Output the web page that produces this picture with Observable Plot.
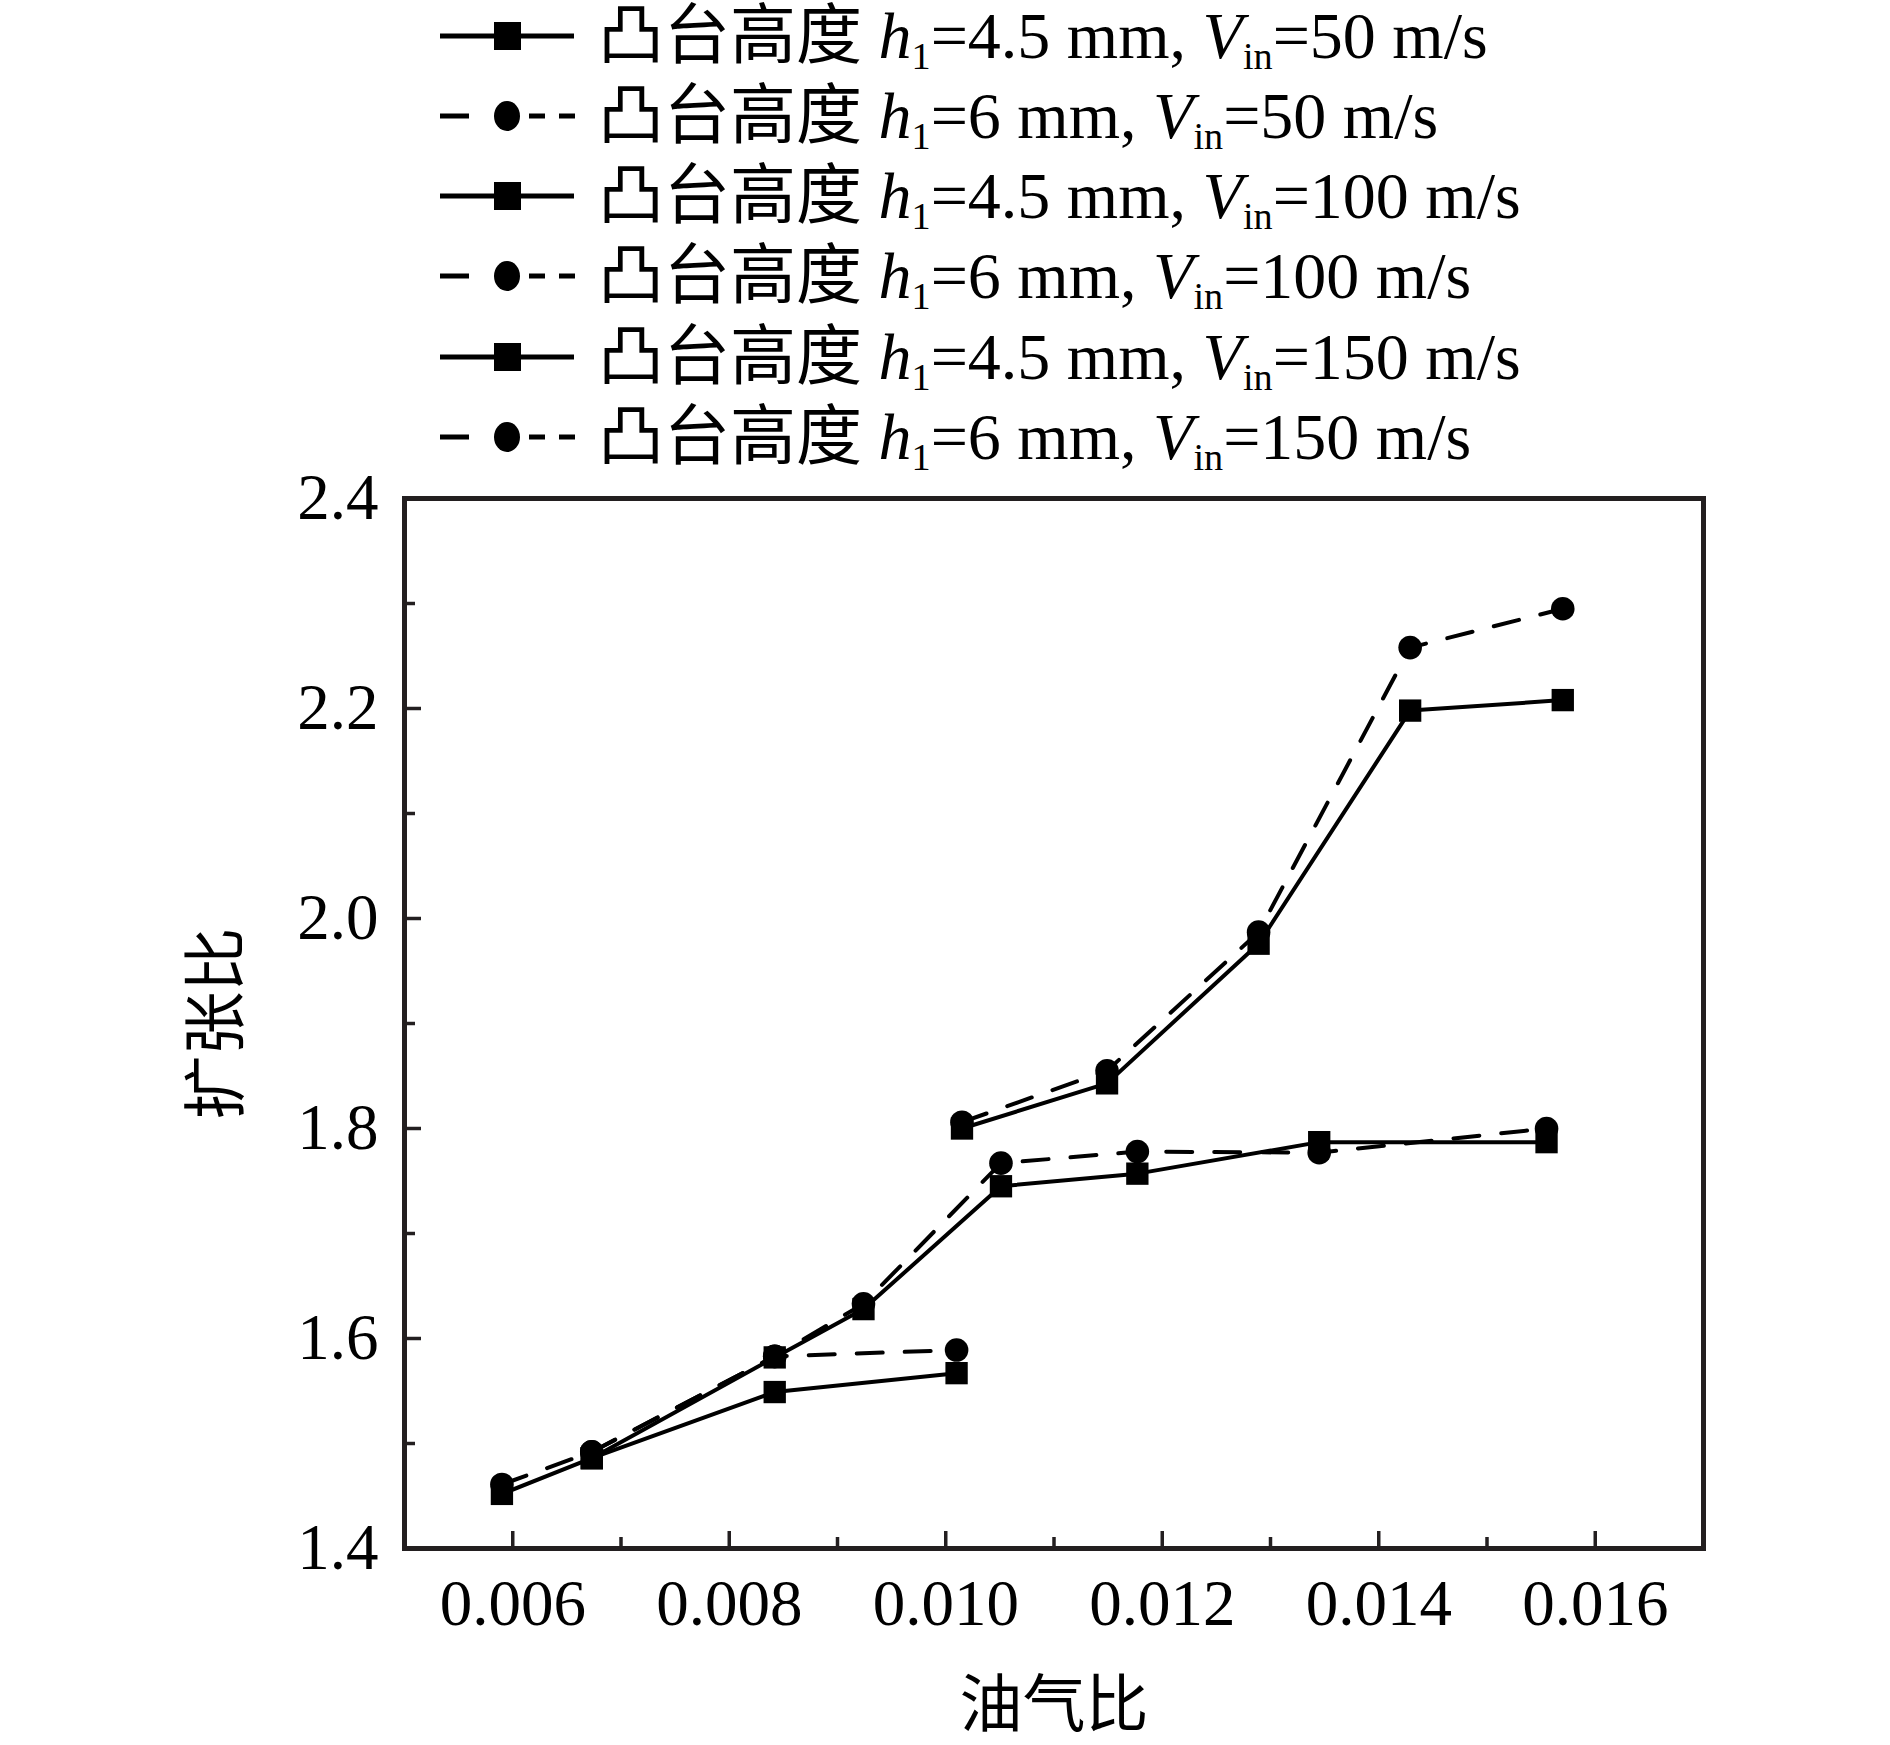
<!DOCTYPE html>
<html>
<head>
<meta charset="utf-8">
<script src="https://cdn.jsdelivr.net/npm/d3@7"></script>
<script src="https://cdn.jsdelivr.net/npm/@observablehq/plot@0.6"></script>
<style>
  html, body { margin: 0; padding: 0; background: #fff; }
  #wrap { width: 1890px; height: 1745px; position: relative; overflow: hidden; }
  #legend { position: relative; width: 1890px; height: 480px; }
  .row { position: absolute; left: 0; height: 80px; display: flex; align-items: center; }
  .row svg { position: absolute; left: 440px; top: 0; }
  .row .lab { position: absolute; left: 598px; top: 0; height: 80px; line-height: 80px; white-space: nowrap;
    font-family: "Liberation Serif", "Noto Sans CJK SC", serif; font-size: 66px; color: #000; }
  .lab i { font-style: italic; }
  .lab sub { font-size: 0.58em; vertical-align: -0.28em; line-height: 0; }
</style>
</head>
<body>
<div id="wrap">
  <div id="legend"></div>
  <div id="chart"></div>
</div>
<script>
// ---------- data ----------
const xLabel = "油气比";
const yLabel = "扩张比";
const xMajor = [0.006, 0.008, 0.010, 0.012, 0.014, 0.016];
const xMinor = [0.007, 0.009, 0.011, 0.013, 0.015];
const yMajor = [1.4, 1.6, 1.8, 2.0, 2.2, 2.4];
const yMinor = [1.5, 1.7, 1.9, 2.1, 2.3];

const xV50 = [0.0059, 0.00673, 0.00842, 0.0101];
const yV50h45 = [1.452, 1.486, 1.549, 1.567];
const yV50h6 = [1.461, 1.492, 1.583, 1.589];

const xV100 = [0.00673, 0.00842, 0.00924, 0.01051, 0.01177, 0.01345, 0.01555];
const yV100h45 = [1.486, 1.582, 1.628, 1.745, 1.757, 1.787, 1.787];
const yV100h6 = [1.492, 1.583, 1.633, 1.767, 1.778, 1.777, 1.800];

const xV150 = [0.01015, 0.01149, 0.01289, 0.01429, 0.0157];
const yV150h45 = [1.800, 1.843, 1.976, 2.198, 2.208];
const yV150h6 = [1.806, 1.855, 1.987, 2.258, 2.295];

const seriesNames = [
  {h: "4.5", v: "50"}, {h: "6", v: "50"},
  {h: "4.5", v: "100"}, {h: "6", v: "100"},
  {h: "4.5", v: "150"}, {h: "6", v: "150"}
];

// ---------- build table ----------
function rows(xs, ys, series, h) {
  return xs.map((x, i) => ({x, y: ys[i], series, h}));
}
const data = [
  ...rows(xV50, yV50h45, "h4.5 V50", "4.5"),
  ...rows(xV50, yV50h6, "h6 V50", "6"),
  ...rows(xV100, yV100h45, "h4.5 V100", "4.5"),
  ...rows(xV100, yV100h6, "h6 V100", "6"),
  ...rows(xV150, yV150h45, "h4.5 V150", "4.5"),
  ...rows(xV150, yV150h6, "h6 V150", "6")
];
const solid = data.filter(d => d.h === "4.5");
const dashed = data.filter(d => d.h === "6");

const frameColor = "#231f20";
const sw = 4;
const dash = "26,22";

const chart = Plot.plot({
  width: 1890,
  height: 1265,
  marginTop: 18,
  marginBottom: 197,
  marginLeft: 404,
  marginRight: 187,
  style: {fontFamily: "'Liberation Serif', 'Noto Sans CJK SC', serif", background: "#fff", color: "#000", overflow: "visible"},
  x: {domain: [0.005, 0.017]},
  y: {domain: [1.4, 2.4]},
  marks: [
    Plot.axisX(xMajor, {tickSize: -17, strokeWidth: 3.5, stroke: frameColor, tickFormat: () => "", label: null}),
    Plot.axisX(xMinor, {tickSize: -11, strokeWidth: 3.5, stroke: frameColor, tickFormat: () => "", label: null}),
    Plot.axisX(xMajor, {tickSize: 0, tickPadding: 30, fontSize: 65, tickFormat: d3.format(".3f"), label: null, fill: "#000"}),
    Plot.axisY(yMajor, {tickSize: -17, strokeWidth: 3.5, stroke: frameColor, tickFormat: () => "", label: null}),
    Plot.axisY(yMinor, {tickSize: -11, strokeWidth: 3.5, stroke: frameColor, tickFormat: () => "", label: null}),
    Plot.axisY(yMajor, {tickSize: 0, tickPadding: 26, fontSize: 65, tickFormat: d3.format(".1f"), label: null, fill: "#000"}),
    Plot.frame({stroke: frameColor, strokeWidth: 5}),
    Plot.line(solid, {x: "x", y: "y", z: "series", stroke: "#000", strokeWidth: sw}),
    Plot.line(dashed, {x: "x", y: "y", z: "series", stroke: "#000", strokeWidth: sw, strokeDasharray: dash}),
    Plot.dot(solid, {x: "x", y: "y", symbol: "square", r: 12.6, fill: "#000", stroke: "none"}),
    Plot.dot(dashed, {x: "x", y: "y", symbol: "circle", r: 11.8, fill: "#000", stroke: "none"}),
    Plot.text([xLabel], {text: d => d, frameAnchor: "bottom", lineAnchor: "middle", textAnchor: "middle", dy: 157, fontSize: 63, fill: "#000", fontFamily: "'Noto Sans CJK SC', sans-serif"}),
    Plot.text([yLabel], {text: d => d, frameAnchor: "left", lineAnchor: "middle", textAnchor: "middle", dx: -187, rotate: -90, fontSize: 64, fill: "#000", fontFamily: "'Noto Sans CJK SC', sans-serif"})
  ]
});
document.getElementById("chart").appendChild(chart);

// ---------- legend ----------
const centers = [36, 116, 196, 276, 357, 437];
const legend = document.getElementById("legend");
seriesNames.forEach((s, i) => {
  const row = document.createElement("div");
  row.className = "row";
  row.style.top = (centers[i] - 40) + "px";
  const isSquare = s.h === "4.5";
  const marker = isSquare
    ? `<rect x="54" y="26" width="27" height="28" fill="#000"/>`
    : `<ellipse cx="67" cy="40" rx="13" ry="15" fill="#000"/>`;
  const line = isSquare
    ? `<line x1="0" y1="40" x2="134" y2="40" stroke="#000" stroke-width="5"/>`
    : `<line x1="0" y1="40" x2="135" y2="40" stroke="#000" stroke-width="5" stroke-dasharray="29 60 16 14 16"/>`;
  row.innerHTML = `<svg width="140" height="80" viewBox="0 0 140 80">${line}${marker}</svg>` +
    `<div class="lab">凸台高度 <i>h</i><sub>1</sub>=${s.h} mm, <i>V</i><sub>in</sub>=${s.v} m/s</div>`;
  legend.appendChild(row);
});
</script>
</body>
</html>
